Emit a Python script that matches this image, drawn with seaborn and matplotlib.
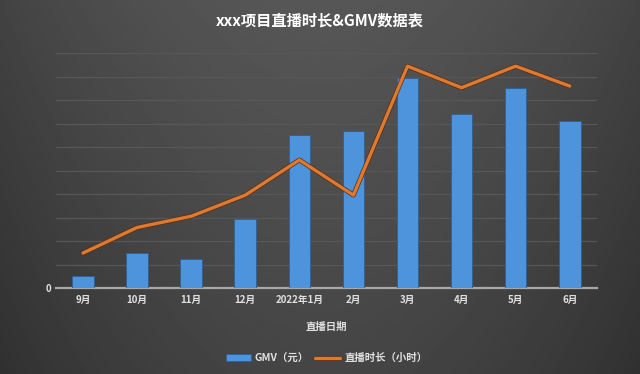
import numpy as np
import pandas as pd
import matplotlib
matplotlib.use("Agg")
import matplotlib.pyplot as plt
import matplotlib.patheffects as pe
import seaborn as sns

months = ["9月", "10月", "11月", "12月", "2022年1月", "2月", "3月", "4月", "5月", "6月"]
gmv = [0.51, 1.51, 1.23, 2.95, 6.54, 6.68, 8.94, 7.44, 8.54, 7.11]
hours = [1.49, 2.58, 3.06, 3.96, 5.46, 3.96, 9.46, 8.54, 9.46, 8.61]

df = pd.DataFrame({"month": months, "gmv": gmv, "hours": hours})

sns.set_theme(style="dark")
plt.rcParams["font.family"] = ["Noto Sans CJK SC", "DejaVu Sans"]

fig = plt.figure(figsize=(6.4, 3.74), dpi=100)
fig.patch.set_facecolor("#3a3a3a")

# background gradient
bg = fig.add_axes([0, 0, 1, 1], zorder=-10)
yy, xx = np.mgrid[0:1:200j, 0:1:300j]
val = 0.31 - 0.07 * yy + 0.03 * np.exp(-((xx - 0.5) ** 2) / 0.08) - 0.05 * (np.abs(xx - 0.5) * 2) ** 3
bg.imshow(val, cmap="gray", vmin=0, vmax=1, aspect="auto", extent=[0, 1, 0, 1], origin="upper")
bg.axis("off")

ax = fig.add_axes([0.0875, 0.23, 0.845, 0.627])
ax.set_facecolor("none")

sns.barplot(data=df, x="month", y="gmv", color="#4d94dc", width=0.4, saturation=1,
            ax=ax, label="GMV（元）", zorder=3)
for p in ax.patches:
    p.set_edgecolor("#2e5f96")
    p.set_linewidth(0.6)

sns.lineplot(data=df, x="month", y="hours", color="#dd7a32", linewidth=2.4, ax=ax,
             label="直播时长（小时）", zorder=4, sort=False)
ax.lines[-1].set_path_effects([pe.Stroke(linewidth=3.4, foreground="#5a2a10"), pe.Normal()])

ax.set_ylim(0, 10)
ax.set_xlim(-0.5, 9.5)
ax.set_yticks(np.arange(0, 11, 1))
ax.set_yticklabels(["0"] + [""] * 10)
ax.grid(axis="y", color="#575757", linewidth=0.9, zorder=0)
ax.grid(axis="x", visible=False)
for s in ["top", "right", "left"]:
    ax.spines[s].set_visible(False)
ax.spines["bottom"].set_color("#a8a8a8")
ax.spines["bottom"].set_linewidth(1.6)
ax.tick_params(axis="both", length=0, colors="#e0e0e0", labelsize=7)
for t in ax.get_xticklabels() + ax.get_yticklabels():
    t.set_fontweight("bold")
ax.tick_params(axis="x", pad=5)
ax.set_ylabel("")
ax.set_xlabel("直播日期", color="#e0e0e0", fontsize=7.5, fontweight="bold", labelpad=12)

fig.text(0.5, 0.945, "xxx项目直播时长&GMV数据表", ha="center", va="center",
         color="white", fontsize=11, fontweight="bold")

handles, labels = ax.get_legend_handles_labels()
order = [labels.index("GMV（元）"), labels.index("直播时长（小时）")]
leg = ax.legend([handles[i] for i in order], [labels[i] for i in order],
                loc="center", bbox_to_anchor=(0.5, -0.30), ncol=2, frameon=False,
                fontsize=7.5, handlelength=2.4, columnspacing=0.6, handletextpad=0.4)
for t in leg.get_texts():
    t.set_color("#e0e0e0")
    t.set_fontweight("bold")

fig.savefig("out.png", dpi=100, facecolor=fig.get_facecolor())
